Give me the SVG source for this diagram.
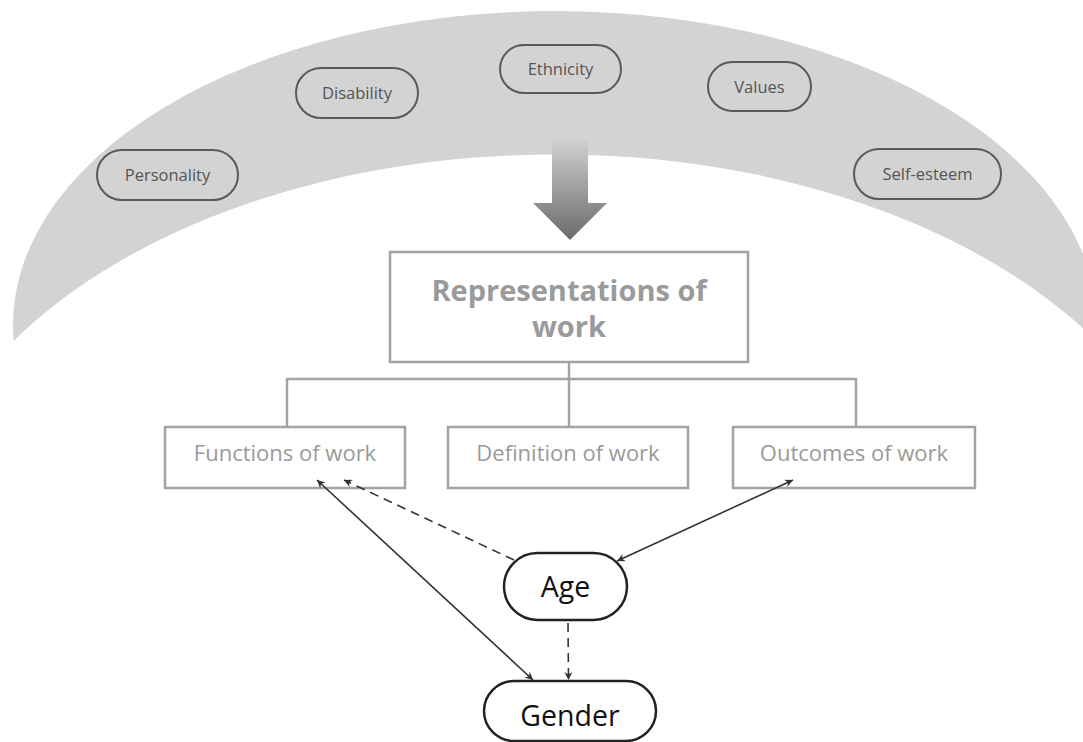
<svg xmlns="http://www.w3.org/2000/svg" width="1083" height="742" viewBox="0 0 1083 742">
<defs>
<style>
.band{fill:#d3d3d3;}
.pill{fill:none;stroke:#5a5a5a;stroke-width:2;}
.ptxt{font-family:"Open Sans","Liberation Sans",sans-serif;font-size:16.5px;fill:#555;text-anchor:middle;}
.box{fill:#fff;stroke:#a3a3a3;stroke-width:2.5;}
.tree{fill:none;stroke:#a3a3a3;stroke-width:2.5;}
.btxt{font-family:"Open Sans","Liberation Sans",sans-serif;font-size:22px;fill:#9a9a9a;text-anchor:middle;}
.ttxt{font-family:"Open Sans","Liberation Sans",sans-serif;font-size:29px;font-weight:bold;fill:#9a9a9a;text-anchor:middle;}
.node{fill:#fff;stroke:#222;stroke-width:2.5;}
.ntxt{font-family:"Open Sans","Liberation Sans",sans-serif;font-size:28.5px;fill:#111;text-anchor:middle;}
.conn{fill:none;stroke:#333;stroke-width:1.6;}
.dash{stroke-dasharray:9 6;}
</style>
<linearGradient id="ag" x1="0" y1="0" x2="0" y2="1">
<stop offset="0" stop-color="#d6d6d6"/>
<stop offset="1" stop-color="#6a6a6a"/>
</linearGradient>
<marker id="ah" viewBox="0 0 10 10" refX="10" refY="5" markerWidth="8" markerHeight="8" orient="auto-start-reverse" markerUnits="userSpaceOnUse">
<path d="M0,0 L10,5 L0,10 L3,5 Z" fill="#333"/>
</marker>
</defs>

<g id="band">
<path class="band" d="M 13.7 341 A 542 314 0 1 1 1096.3 341 A 640 400 0 0 0 13.7 341 Z"/>
</g>

<g id="influence-arrow">
<path d="M552,135 L588,135 L588,203 L607,203 L570,240 L533,203 L552,203 Z" fill="url(#ag)"/>
</g>

<g id="personality">
<rect class="pill" x="97" y="150" width="141" height="50" rx="25"/>
<text class="ptxt" x="167.5" y="181">Personality</text>
</g>
<g id="disability">
<rect class="pill" x="296" y="68" width="122" height="50" rx="25"/>
<text class="ptxt" x="357" y="99">Disability</text>
</g>
<g id="ethnicity">
<rect class="pill" x="500" y="45" width="121" height="48" rx="24"/>
<text class="ptxt" x="560.5" y="75">Ethnicity</text>
</g>
<g id="values">
<rect class="pill" x="708" y="62" width="103" height="49" rx="24.5"/>
<text class="ptxt" x="759.5" y="92.5">Values</text>
</g>
<g id="self-esteem">
<rect class="pill" x="854" y="149" width="147" height="50" rx="25"/>
<text class="ptxt" x="927.5" y="180">Self-esteem</text>
</g>

<g id="representations">
<rect class="box" x="390" y="252" width="358" height="110"/>
<text class="ttxt" x="569" y="301">Representations of</text>
<text class="ttxt" x="569" y="337">work</text>
</g>
<g id="functions">
<rect class="box" x="165" y="427" width="240" height="61"/>
<text class="btxt" x="285" y="461">Functions of work</text>
</g>
<g id="definition">
<rect class="box" x="448" y="427" width="240" height="61"/>
<text class="btxt" x="568" y="461">Definition of work</text>
</g>
<g id="outcomes">
<rect class="box" x="733" y="427" width="242" height="61"/>
<text class="btxt" x="854" y="461">Outcomes of work</text>
</g>

<g id="age">
<rect class="node" x="504" y="553" width="123" height="67" rx="33.5"/>
<text class="ntxt" x="565.5" y="597">Age</text>
</g>
<g id="gender">
<rect class="node" x="484" y="681" width="172" height="60" rx="30"/>
<text class="ntxt" x="570" y="726">Gender</text>
</g>

<g id="connectors">
<path class="tree" d="M569,362 V379 M287,379 H856 M287,378 V427 M569,379 V427 M856,378 V427"/>
<line class="conn" x1="533" y1="680" x2="317" y2="480" marker-start="url(#ah)" marker-end="url(#ah)"/>
<line class="conn dash" x1="514" y1="560" x2="344" y2="480" marker-end="url(#ah)"/>
<line class="conn" x1="617" y1="561" x2="793" y2="480" marker-start="url(#ah)" marker-end="url(#ah)"/>
<line class="conn dash" x1="568" y1="623" x2="568.5" y2="680" marker-end="url(#ah)"/>
</g>
</svg>
